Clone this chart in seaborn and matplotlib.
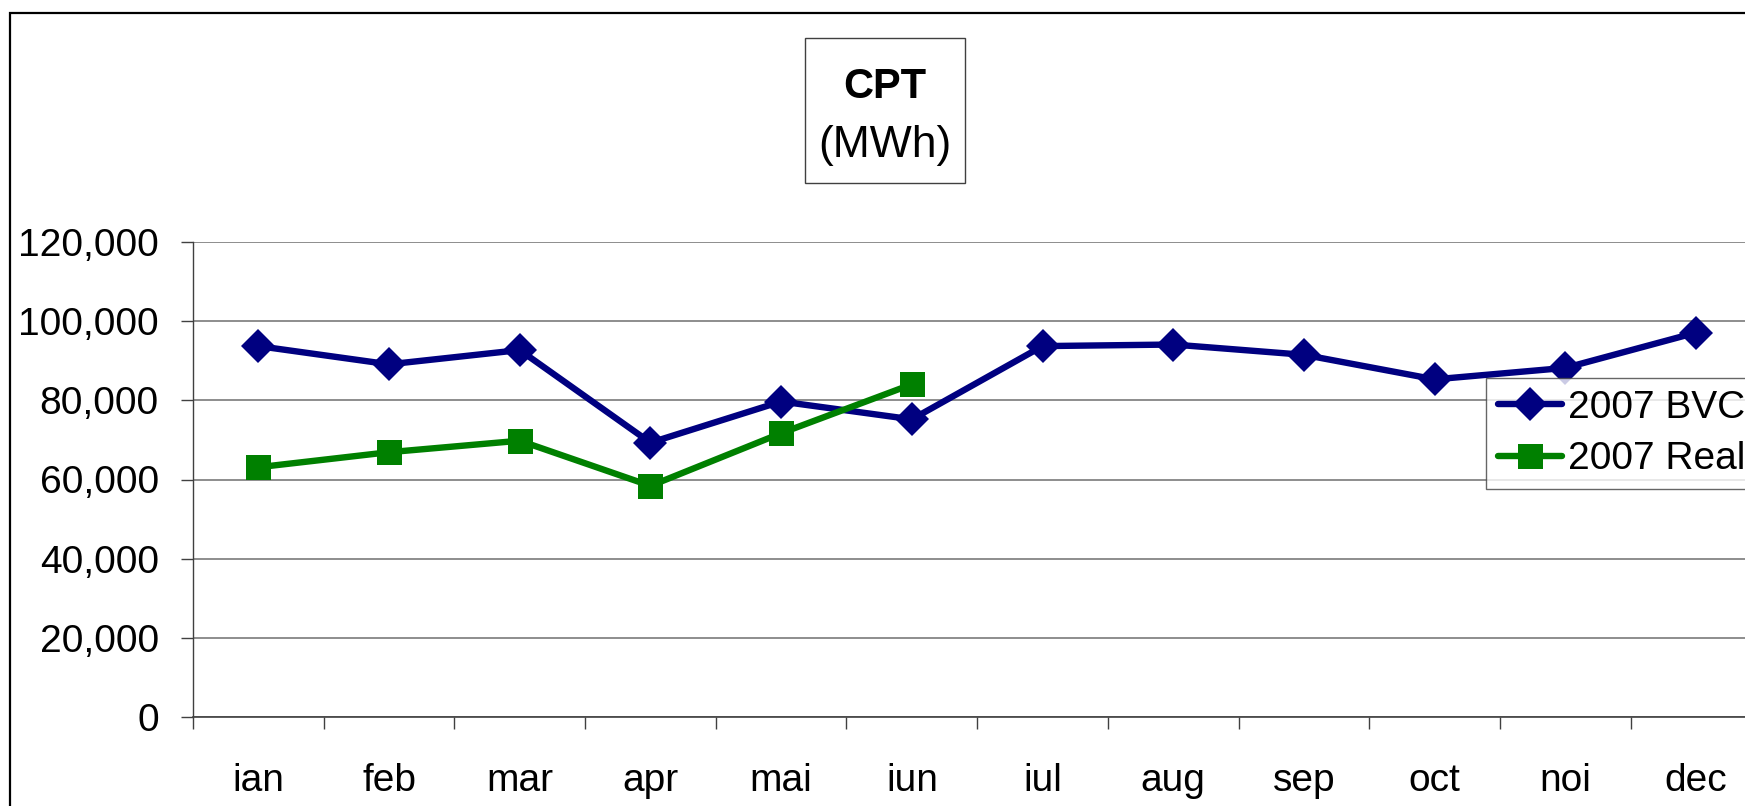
import numpy as np
import pandas as pd
import matplotlib
matplotlib.use('Agg')
import matplotlib.pyplot as plt
import matplotlib.patches as patches
from matplotlib.ticker import FuncFormatter, FixedLocator
import seaborn as sns

# Monthly data (MWh)
months = ['ian', 'feb', 'mar', 'apr', 'mai', 'iun', 'iul', 'aug', 'sep', 'oct', 'noi', 'dec']
bvc_2007 = [93700, 89100, 92700, 69300, 79700, 75200, 93700, 94100, 91500, 85300, 88200, 97100]
real_2007 = [63100, 66900, 69800, 58400, 71700, 84050]
series_names = ['2007 BVC', '2007 Realizat']

rows = []
for i, v in enumerate(bvc_2007):
    rows.append({'luna': i, 'valoare': v, 'serie': series_names[0]})
for i, v in enumerate(real_2007):
    rows.append({'luna': i, 'valoare': v, 'serie': series_names[1]})
df = pd.DataFrame(rows)

sns.set_style('white')
plt.rcParams['font.family'] = ['Liberation Sans', 'DejaVu Sans']
plt.rcParams['text.color'] = 'black'
plt.rcParams['xtick.color'] = 'black'
plt.rcParams['ytick.color'] = 'black'

W, H = 1745, 806
fig = plt.figure(figsize=(W / 100, H / 100), dpi=100)

# plot area runs past the right edge of the picture, like the original
left, bottom, top = 193, 717, 242
step = 130.7
right = left + 12 * step
ax = fig.add_axes([left / W, 1 - bottom / H, (right - left) / W, (bottom - top) / H])

colors = {series_names[0]: '#000080', series_names[1]: '#008000'}
sns.lineplot(data=df, x='luna', y='valoare', hue='serie', style='serie',
             palette=colors,
             markers={series_names[0]: 'D', series_names[1]: 's'},
             dashes=False, linewidth=4.6, markeredgewidth=0,
             ax=ax, legend=False, zorder=3)
for line, ms in zip(ax.lines, [17, 18]):
    line.set_markersize(ms)

ax.set_xlim(-0.5, 11.5)
ax.set_ylim(0, 120000)
ax.set_yticks(np.arange(0, 120001, 20000))
ax.yaxis.set_major_formatter(FuncFormatter(lambda v, p: f'{int(v):,}'))
ax.grid(axis='y', color='#7a7a7a', linewidth=1.2, zorder=0)
ax.set_axisbelow(True)

# category boundaries as major ticks, labels on minor ticks at centres
ax.xaxis.set_major_locator(FixedLocator(np.arange(-0.5, 12.0, 1.0)))
ax.xaxis.set_major_formatter(FuncFormatter(lambda v, p: ''))
ax.xaxis.set_minor_locator(FixedLocator(np.arange(12)))
ax.set_xticklabels(months, minor=True)
ax.tick_params(axis='x', which='major', direction='out', length=8.6, width=1, color='#404040', bottom=True)
ax.tick_params(axis='x', which='minor', length=0, pad=33, labelsize=28)
ax.tick_params(axis='y', direction='out', length=8.6, width=1, color='#404040', left=True, pad=16, labelsize=28)

for s in ['top', 'right']:
    ax.spines[s].set_visible(False)
ax.spines['left'].set_color('#404040')
ax.spines['bottom'].set_color('#404040')
ax.spines['left'].set_linewidth(1)
ax.spines['bottom'].set_linewidth(1.2)
ax.set_xlabel('')
ax.set_ylabel('')

# legend (cut by the picture edge, as in the original)
handles = [plt.Line2D([], [], color=colors[series_names[0]], lw=4.6, marker='D', ms=17, mew=0),
           plt.Line2D([], [], color=colors[series_names[1]], lw=4.6, marker='s', ms=18, mew=0)]
leg = fig.legend(handles, series_names, loc='upper left',
                 bbox_to_anchor=(1486 / W, 1 - 378 / H), fontsize=28,
                 frameon=True, fancybox=False, edgecolor='#404040',
                 handlelength=1.65, handletextpad=0.15, borderpad=0.3,
                 labelspacing=0.4, borderaxespad=0)
leg.get_frame().set_linewidth(1)

# title box
fig.patches.append(patches.Rectangle((805 / W, 1 - 183 / H), 160 / W, 145 / H,
                                     transform=fig.transFigure, fill=False,
                                     edgecolor='#404040', linewidth=1))
fig.text(885 / W, 1 - 87 / H, 'CPT', ha='center', va='center', fontsize=30, fontweight='bold')
fig.text(885 / W, 1 - 146 / H, '(MWh)', ha='center', va='center', fontsize=32)

# outer chart frame
fig.patches.append(patches.Rectangle((10 / W, -0.1), 1.2, 1 - 13 / H + 0.1,
                                     transform=fig.transFigure, fill=False,
                                     edgecolor='black', linewidth=1.6))

fig.savefig('out.png', dpi=100)
